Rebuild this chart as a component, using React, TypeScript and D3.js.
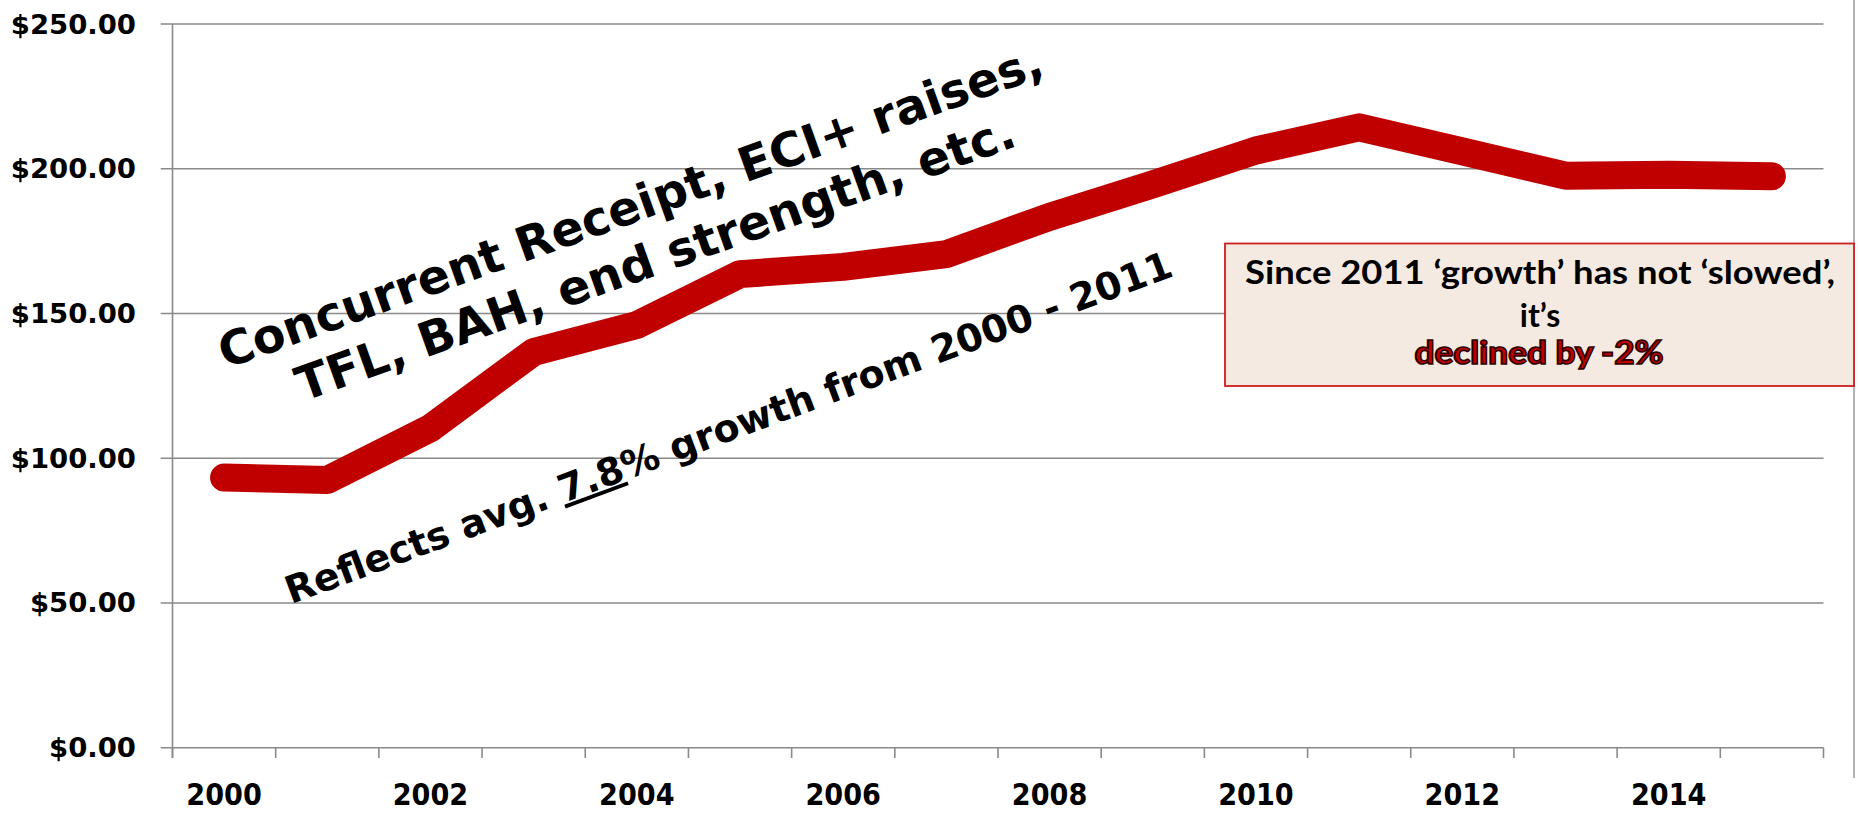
import React from "react";
import * as d3 from "d3";

const years = ["2000","2001","2002","2003","2004","2005","2006","2007","2008","2009","2010","2011","2012","2013","2014","2015"];
const values = [93.3, 92.5, 110.4, 136.7, 146.0, 163.6, 166.1, 170.5, 183.4, 194.6, 206.3, 214.3, 206.0, 197.6, 197.9, 197.4];
const yTicks = [0, 50, 100, 150, 200, 250];
const xLabelYears = ["2000","2002","2004","2006","2008","2010","2012","2014"];
const noteLines = ["Concurrent Receipt, ECI+ raises,", "TFL, BAH, end strength, etc."];
const boxLines = ["Since 2011 \u2018growth\u2019 has not \u2018slowed\u2019,", "it\u2019s", "declined by -2%"];

const W = 1858, H = 825;
const left = 172.5, right = 1823.5, top = 24, bottom = 747.7;

export default function App() {
  const x = d3.scaleBand<string>().domain(years).range([left, right]).paddingInner(0).paddingOuter(0);
  const y = d3.scaleLinear().domain([0, 250]).range([bottom, top]);
  const cx = (yr: string) => (x(yr) as number) + x.bandwidth() / 2;
  const line = d3.line<number>().x((_, i) => cx(years[i])).y((d) => y(d)).curve(d3.curveLinear);
  const boundaries = years.map((yr) => x(yr) as number).concat([right]);
  const grid = "#8a8a8a";
  const fmt = (v: number) => "$" + v.toFixed(2);
  return (
    <svg width={W} height={H} style={{ position: "absolute", left: 0, top: 0, background: "#fff" }}>
      <rect x={0} y={0} width={W} height={H} fill="#fff" />
      {/* outer right border */}
      <line x1={1854} x2={1854} y1={0} y2={778} stroke="#9a9a9a" strokeWidth={1.5} />
      {/* gridlines + y ticks */}
      {yTicks.map((t) => (
        <line key={"g" + t} x1={160.7} x2={right} y1={y(t)} y2={y(t)} stroke={grid} strokeWidth={1.6} />
      ))}
      {/* y axis */}
      <line x1={left} x2={left} y1={top} y2={758} stroke={grid} strokeWidth={1.6} />
      {/* x ticks */}
      {boundaries.map((b, i) => (
        <line key={"xt" + i} x1={b} x2={b} y1={bottom} y2={758} stroke={grid} strokeWidth={1.6} />
      ))}
      {/* y labels */}
      {yTicks.map((t) => (
        <text key={"yl" + t} transform={`translate(136,${y(t) + 9.5}) scale(1.1,1.05)`} textAnchor="end"
          fontFamily="'DejaVu Sans', Verdana, sans-serif" fontWeight="bold" fontSize={25} fill="#000">
          {fmt(t)}
        </text>
      ))}
      {/* x labels */}
      {xLabelYears.map((yr) => (
        <text key={"xl" + yr} transform={`translate(${cx(yr)},805) scale(0.92,1)`} textAnchor="middle"
          fontFamily="'DejaVu Sans', sans-serif" fontWeight="bold" fontSize={29.5} fill="#000">
          {yr}
        </text>
      ))}
      {/* data line */}
      <path d={line(values) as string} fill="none" stroke="#C00000" strokeWidth={28} strokeLinecap="round" strokeLinejoin="round" />
      {/* rotated annotation */}
      <g transform="translate(636,222) rotate(-19.7)" fontFamily="'DejaVu Sans', Verdana, sans-serif" fontWeight="bold" fontSize={47.5} fill="#000">
        <text x={0} y={0} textAnchor="middle">{noteLines[0]}</text>
        <text x={6} y={57} textAnchor="middle">{noteLines[1]}</text>
      </g>
      <g transform="translate(733,440) rotate(-20.4)" fontFamily="'DejaVu Sans', Verdana, sans-serif" fontWeight="bold" fontSize={38} fill="#000">
        <text x={0} y={0} textAnchor="middle">
          Reflects avg. <tspan textDecoration="underline" style={{ textDecoration: "underline" }}>7.8</tspan>% growth from 2000 - 2011
        </text>
      </g>
      {/* callout box */}
      <rect x={1225} y={243.5} width={629} height={142.5} fill="#F5EAE1" stroke="#C81E1E" strokeWidth={1.8} />
      <text x={1540} y={284} textAnchor="middle" fontFamily="Lato, 'Open Sans', sans-serif" fontWeight="bold" fontSize={32}
        fill="#000" textLength={590} lengthAdjust="spacingAndGlyphs">{boxLines[0]}</text>
      <text x={1540} y={327} textAnchor="middle" fontFamily="Lato, 'Open Sans', sans-serif" fontWeight="bold" fontSize={32} fill="#000">{boxLines[1]}</text>
      <text x={1539} y={364} textAnchor="middle" fontFamily="Lato, 'Open Sans', sans-serif" fontWeight="900" fontSize={32}
        fill="#C00000" stroke="#2a0000" strokeWidth={1.6} textLength={249} lengthAdjust="spacingAndGlyphs">{boxLines[2]}</text>
    </svg>
  );
}
